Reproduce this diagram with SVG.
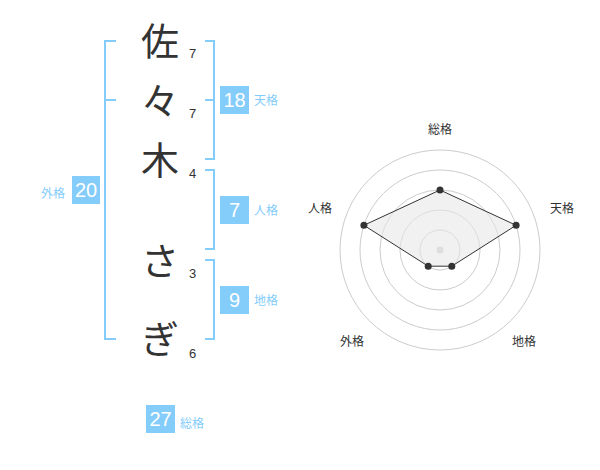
<svg xmlns="http://www.w3.org/2000/svg" width="600" height="470" viewBox="0 0 600 470">
<style>
.ch{font-family:"Noto Sans CJK JP","Noto Sans CJK SC",sans-serif;font-size:38px;fill:#333;text-anchor:middle}
.num{font-family:"Liberation Sans",Arial,sans-serif;font-size:13px;fill:#333}
.box{fill:#84ccfa}
.bt{font-family:"Liberation Sans",Arial,sans-serif;font-size:20px;fill:#fff;text-anchor:middle}
.lb{font-family:"Noto Sans CJK JP",sans-serif;font-size:12px;fill:#84ccfa}
.br{fill:none;stroke:#84ccfa;stroke-width:2}
.ring{fill:none;stroke:#ccc;stroke-width:1}
.rl{font-family:"Noto Sans CJK JP",sans-serif;font-size:12px;fill:#333;text-anchor:middle}
.dot{fill:#333}
</style>
<rect width="600" height="470" fill="#fff"/>
<g id="name">
<text class="ch" x="160" y="55">佐</text>
<text class="ch" x="160" y="115">々</text>
<text class="ch" x="160" y="174">木</text>
<text class="ch" x="160" y="275">さ</text>
<text class="ch" x="160" y="353">ぎ</text>
<text class="num" x="189" y="58">7</text>
<text class="num" x="189" y="118">7</text>
<text class="num" x="189" y="178">4</text>
<text class="num" x="189" y="278">3</text>
<text class="num" x="189" y="358">6</text>
</g>
<g id="connectors">
<path class="br" d="M116,41 H105 V339 H116 M105,100 H116"/>
<path class="br" d="M205,41 H214 V159 H205 M214,100 H205"/>
<path class="br" d="M205,170 H214 V249 H205"/>
<path class="br" d="M205,260 H214 V339 H205"/>
</g>
<g id="gaikaku">
<rect class="box" x="72" y="176" width="28" height="28"/>
<text class="bt" x="86" y="197">20</text>
<text class="lb" x="65" y="198" text-anchor="end">外格</text>
</g>
<g id="tenkaku">
<rect class="box" x="220" y="86" width="29" height="28"/>
<text class="bt" x="234.5" y="107">18</text>
<text class="lb" x="254" y="105">天格</text>
</g>
<g id="jinkaku">
<rect class="box" x="220" y="196" width="29" height="28"/>
<text class="bt" x="234.5" y="217">7</text>
<text class="lb" x="254" y="215">人格</text>
</g>
<g id="chikaku">
<rect class="box" x="220" y="286" width="29" height="28"/>
<text class="bt" x="234.5" y="307">9</text>
<text class="lb" x="254" y="305">地格</text>
</g>
<g id="soukaku">
<rect class="box" x="146" y="405" width="29" height="28"/>
<text class="bt" x="160.5" y="426">27</text>
<text class="lb" x="180" y="428">総格</text>
</g>
<g id="radar">
<circle class="ring" cx="440" cy="250" r="20"/>
<circle class="ring" cx="440" cy="250" r="40"/>
<circle class="ring" cx="440" cy="250" r="60"/>
<circle class="ring" cx="440" cy="250" r="80"/>
<circle class="ring" cx="440" cy="250" r="100"/>
<circle cx="440" cy="250" r="3.5" fill="#ccc"/>
<polygon points="440,190 516.1,225.3 451.8,266.2 428.2,266.2 363.9,225.3" fill="#e8e8e8" fill-opacity="0.6" stroke="#333" stroke-width="1"/>
<circle class="dot" cx="440" cy="190" r="3.5"/>
<circle class="dot" cx="516.1" cy="225.3" r="3.5"/>
<circle class="dot" cx="451.8" cy="266.2" r="3.5"/>
<circle class="dot" cx="428.2" cy="266.2" r="3.5"/>
<circle class="dot" cx="363.9" cy="225.3" r="3.5"/>
<text class="rl" x="440" y="134">総格</text>
<text class="rl" x="562" y="213">天格</text>
<text class="rl" x="320" y="213">人格</text>
<text class="rl" x="352" y="346">外格</text>
<text class="rl" x="524" y="346">地格</text>
</g>
</svg>
